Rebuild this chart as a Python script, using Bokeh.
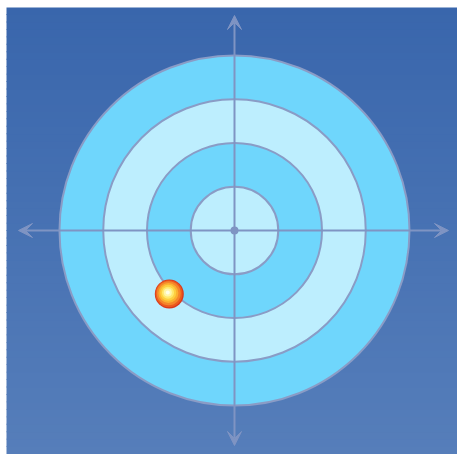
from bokeh.plotting import figure
from bokeh.models import Arrow, VeeHead, Range1d
from bokeh.embed import file_html
from bokeh.resources import INLINE

# data
ring_radii = [4, 3, 2, 1]
ring_colors = ["#6fd6fc", "#bdeefe", "#6fd6fc", "#bdeefe"]
point_x = [-1.49]
point_y = [-1.45]

XR = (-5.211, 5.097)
YR = (-5.12, 5.097)
p = figure(width=457, height=454, output_backend="svg", toolbar_location=None,
           x_range=Range1d(*XR), y_range=Range1d(*YR),
           min_border=0, min_border_left=6, min_border_top=7,
           border_fill_color="white", outline_line_color=None)
p.axis.visible = False
p.grid.visible = False

# background gradient
n = 60
y0, y1 = YR
top = (57, 102, 172)
bot = (86, 126, 186)
bots, tops, cols = [], [], []
for i in range(n):
    a = y0 + (y1 - y0) * i / n
    b = y0 + (y1 - y0) * (i + 1) / n + 0.02
    t = (i + 0.5) / n
    c = tuple(int(round(bot[k] * (1 - t) + top[k] * t)) for k in range(3))
    bots.append(a); tops.append(b); cols.append("#%02x%02x%02x" % c)
p.quad(left=-6, right=6, bottom=bots, top=tops, fill_color=cols, line_color=None)

# rings
for r, c in zip(ring_radii, ring_colors):
    p.circle(x=[0], y=[0], radius=r, fill_color=c, line_color="#8a9cc6", line_width=2)

# axes with arrows
ac = "#7f94c3"
p.add_layout(Arrow(x_start=-4.937, y_start=0, x_end=4.891, y_end=0, line_color=ac, line_width=2,
                   start=VeeHead(size=14, fill_color=ac, line_color=ac),
                   end=VeeHead(size=14, fill_color=ac, line_color=ac)))
p.add_layout(Arrow(x_start=0, y_start=-4.914, x_end=0, y_end=4.914, line_color=ac, line_width=2,
                   start=VeeHead(size=14, fill_color=ac, line_color=ac),
                   end=VeeHead(size=14, fill_color=ac, line_color=ac)))
p.scatter(x=[0], y=[0], size=8, fill_color=ac, line_color=None)

# ball with simulated radial gradient
px_unit = 1 / 43.75
layers = [(29, 0, "#d8381c"), (27, 0.3, "#ec5a1e"), (24, 0.6, "#f5862a"), (20, 0.9, "#fbb030"),
          (16, 1.1, "#fdd040"), (12, 1.3, "#ffe96e"), (8, 1.5, "#fff6ac"), (4, 1.5, "#ffffe6")]
for s, off, c in layers:
    p.scatter(x=[v - off * px_unit for v in point_x], y=[v + off * px_unit for v in point_y],
              size=s, fill_color=c, line_color=None)

open("out.html", "w").write(file_html(p, INLINE))
